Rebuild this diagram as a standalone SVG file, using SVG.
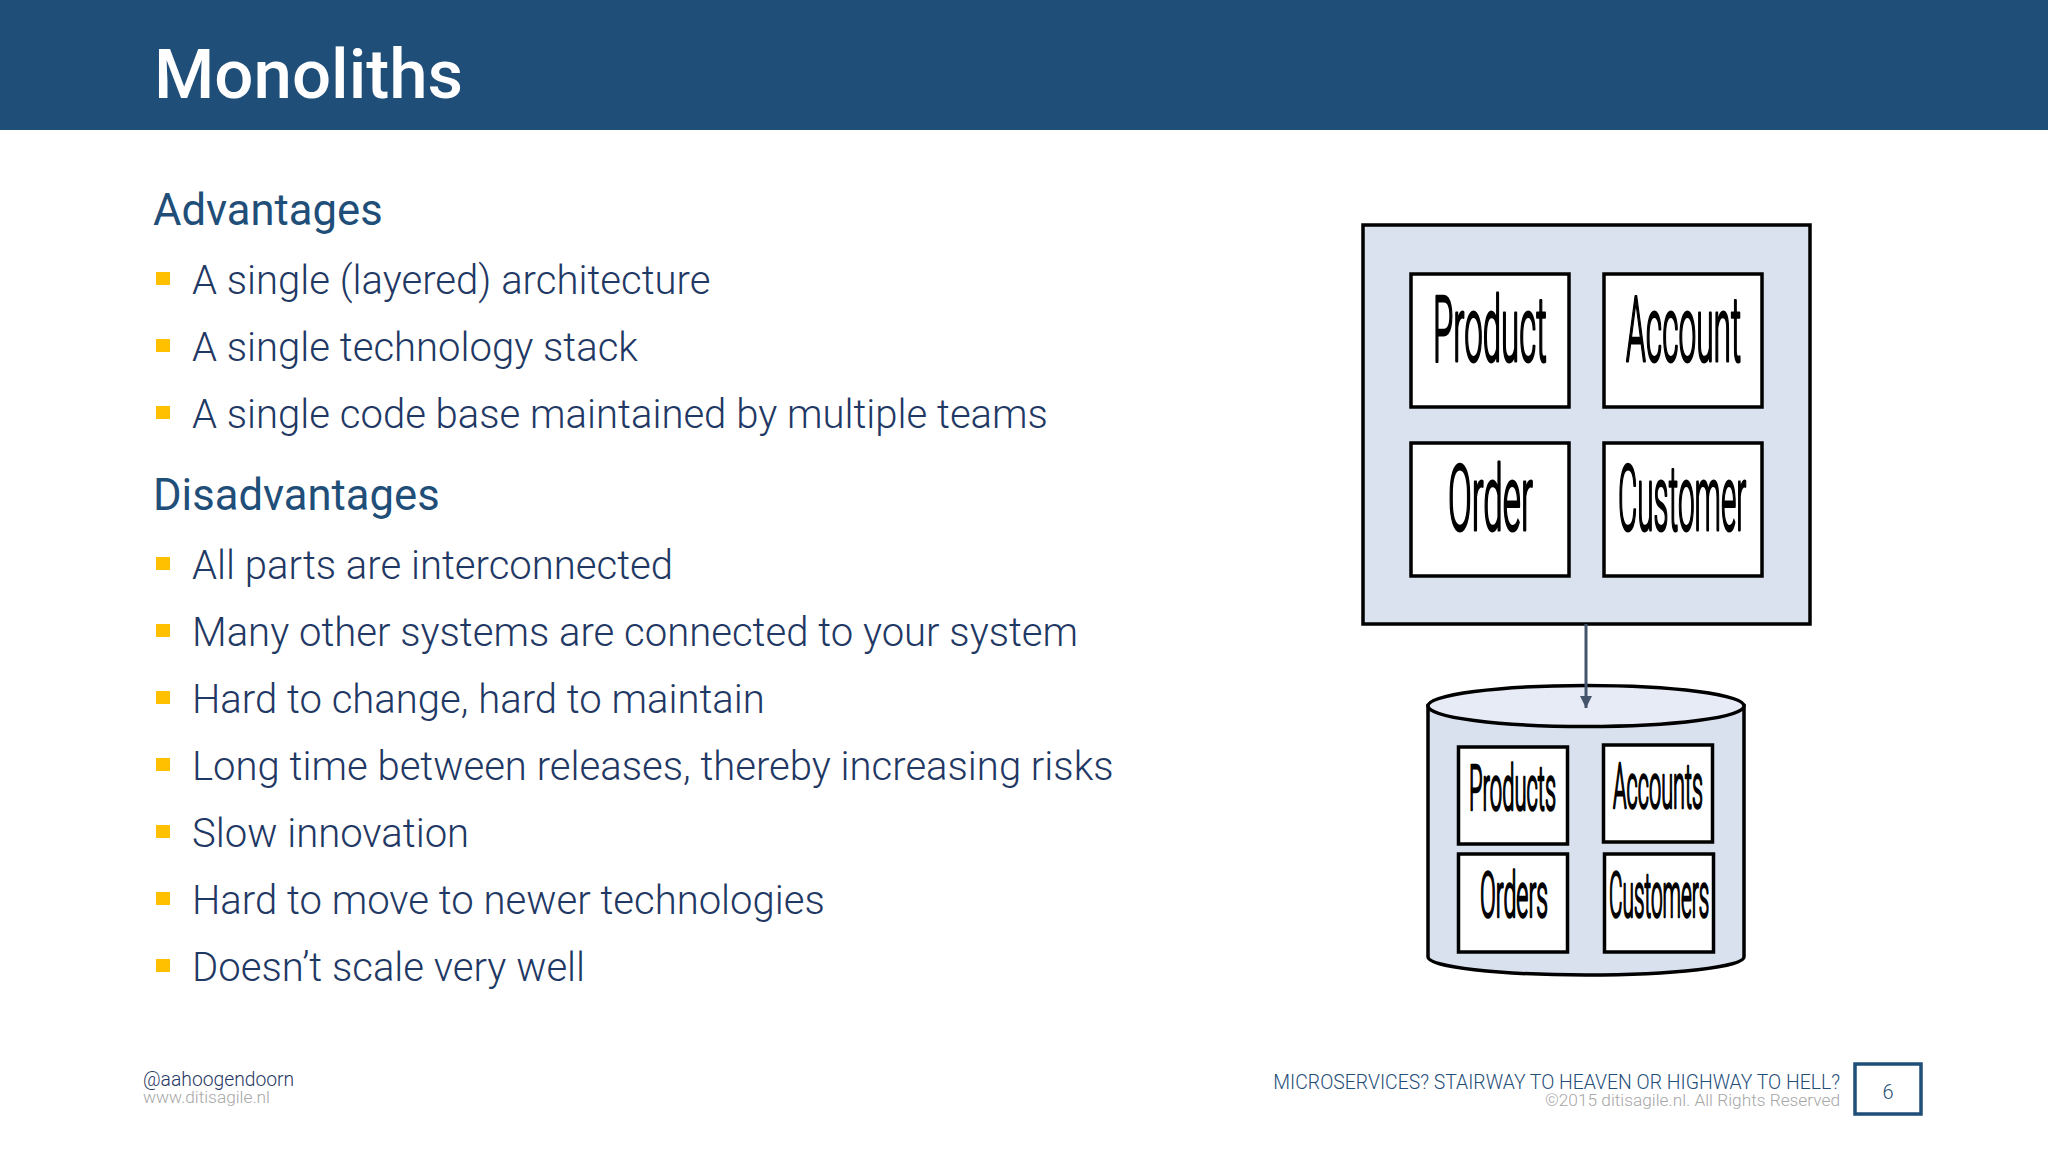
<svg xmlns="http://www.w3.org/2000/svg" width="2048" height="1152" viewBox="0 0 2048 1152">
<defs>
<style>
text{font-family:Roboto,"Liberation Sans",sans-serif}
.h{font-size:43.600px;fill:#1f4e79}
.b{font-size:40.050px;font-weight:300;fill:#1f3864}
.bu{fill:#ffc000}
.box{fill:#fff;stroke:#000;stroke-width:3.5}
.hw{font-weight:300;fill:#000;stroke:#000;stroke-linejoin:round;stroke-linecap:round}
.big{font-size:90px;stroke-width:3}
.small{font-size:63px;stroke-width:2.5}
</style>
<marker id="arr" markerUnits="userSpaceOnUse" markerWidth="13" markerHeight="12" refX="12" refY="6" orient="auto"><path d="M0 0L12 6L0 12Z" fill="#44546a"/></marker>
</defs>
<rect width="2048" height="1152" fill="#fff"/>
<rect width="2048" height="130" fill="#1f4e79"/>
<text x="154" y="98" font-size="69" font-weight="500" fill="#fff">Monoliths</text>
<g id="text">
<text class="h" x="153" y="225">Advantages</text>
<rect class="bu" x="156" y="272" width="14" height="13"/><text class="b" x="192" y="294">A single (layered) architecture</text>
<rect class="bu" x="156" y="339" width="14" height="13"/><text class="b" x="192" y="361">A single technology stack</text>
<rect class="bu" x="156" y="406" width="14" height="13"/><text class="b" x="192" y="428">A single code base maintained by multiple teams</text>
<text class="h" x="153" y="510">Disadvantages</text>
<rect class="bu" x="156" y="557" width="14" height="13"/><text class="b" x="192" y="579">All parts are interconnected</text>
<rect class="bu" x="156" y="624" width="14" height="13"/><text class="b" x="192" y="646">Many other systems are connected to your system</text>
<rect class="bu" x="156" y="691" width="14" height="13"/><text class="b" x="192" y="713">Hard to change, hard to maintain</text>
<rect class="bu" x="156" y="758" width="14" height="13"/><text class="b" x="192" y="780">Long time between releases, thereby increasing risks</text>
<rect class="bu" x="156" y="825" width="14" height="13"/><text class="b" x="192" y="847">Slow innovation</text>
<rect class="bu" x="156" y="892" width="14" height="13"/><text class="b" x="192" y="914">Hard to move to newer technologies</text>
<rect class="bu" x="156" y="959" width="14" height="13"/><text class="b" x="192" y="981">Doesn’t scale very well</text>
</g>
<g id="monolith">
<rect x="1363" y="225" width="447" height="399" fill="#dae2ef" stroke="#000" stroke-width="3.5"/>
</g>
<g id="node-product"><rect class="box" x="1411" y="274" width="158" height="133"/><text class="hw big" transform="translate(1433 361) scale(.367 1)">Product</text></g>
<g id="node-account"><rect class="box" x="1604" y="274" width="158" height="133"/><text class="hw big" transform="translate(1626 361) scale(.352 1)">Account</text></g>
<g id="node-order"><rect class="box" x="1411" y="443" width="158" height="133"/><text class="hw big" transform="translate(1448 530) scale(.39 1)">Order</text></g>
<g id="node-customer"><rect class="box" x="1604" y="443" width="158" height="133"/><text class="hw big" transform="translate(1618 530) scale(.33 1)">Customer</text></g>
<g id="database">
<path d="M1428 706V957C1428 967 1499 975 1586 975S1744 967 1744 957V706Z" fill="#d9e1ef" stroke="#000" stroke-width="3.5"/>
<ellipse cx="1586" cy="706" rx="158" ry="20.5" fill="#e6ebf5" stroke="#000" stroke-width="3.5"/>
</g>
<g id="node-products"><rect class="box" x="1458.500" y="747" width="109" height="97"/><text class="hw small" transform="translate(1469 810) scale(.35 1)">Products</text></g>
<g id="node-accounts"><rect class="box" x="1603.500" y="745" width="109" height="97"/><text class="hw small" transform="translate(1613 808) scale(.345 1)">Accounts</text></g>
<g id="node-orders"><rect class="box" x="1458.500" y="854" width="109" height="98"/><text class="hw small" transform="translate(1480 917) scale(.37 1)">Orders</text></g>
<g id="node-customers"><rect class="box" x="1604.500" y="854" width="109" height="98"/><text class="hw small" transform="translate(1609 917) scale(.33 1)">Customers</text></g>
<g id="connectors">
<line x1="1586" y1="624" x2="1586" y2="708" stroke="#44546a" stroke-width="3" marker-end="url(#arr)"/>
</g>
<g id="footer">
<text x="143" y="1085.500" font-size="19.300" font-weight="300" fill="#1f3864">@aahoogendoorn</text>
<text x="143" y="1103" font-size="17.300" font-weight="300" fill="#a6a6a6">www.ditisagile.nl</text>
<text x="1840" y="1088.500" font-size="19.400" font-weight="300" fill="#1f4e79" text-anchor="end">MICROSERVICES? STAIRWAY TO HEAVEN OR HIGHWAY TO HELL?</text>
<text x="1840" y="1106" font-size="17.300" font-weight="300" fill="#a6a6a6" text-anchor="end">©2015 ditisagile.nl. All Rights Reserved</text>
<rect x="1855" y="1064" width="66" height="50" fill="#fff" stroke="#1f4e79" stroke-width="3.500"/>
<text x="1888" y="1098.500" font-size="20" font-weight="300" fill="#1f4e79" text-anchor="middle">6</text>
</g>
</svg>
